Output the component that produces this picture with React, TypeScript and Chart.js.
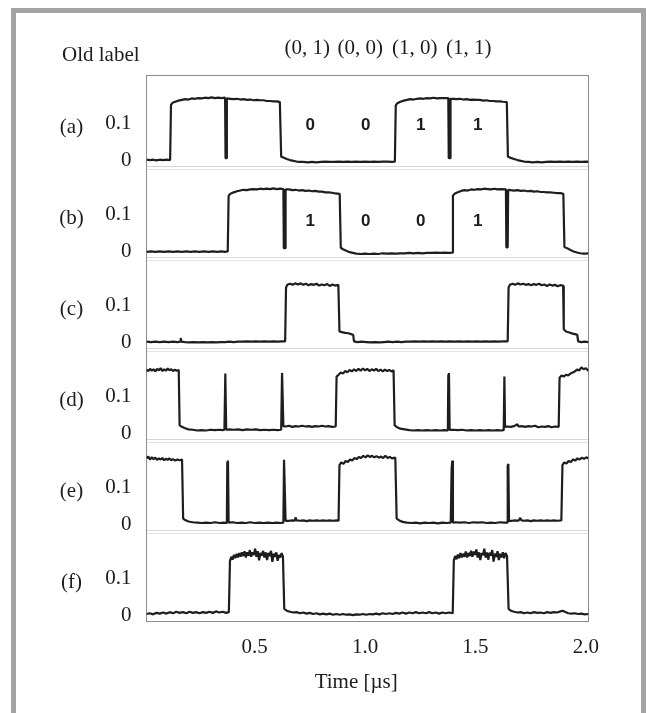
import { useEffect, useRef } from 'react';
import { Chart, registerables } from 'chart.js';

Chart.register(...registerables);

type Pt = [number, number];

// ---- labels / ticks ----
const panelLabels = ['(a)', '(b)', '(c)', '(d)', '(e)', '(f)'];
const panelIds = ['yA', 'yB', 'yC', 'yD', 'yE', 'yF'];
const oldLabelTitle = 'Old label';
const oldLabelPairs = ['(0, 1)', '(0, 0)', '(1, 0)', '(1, 1)'];
const oldLabelPairX = [0.738, 0.978, 1.225, 1.47];
const bitTextX = [0.752, 1.003, 1.252, 1.51];
const bitsA = ['0', '0', '1', '1'];
const bitsB = ['1', '0', '0', '1'];
const bitsAY = 0.097;
const bitsBY = 0.082;
const xTicks = [0.5, 1.0, 1.5, 2.0];
const yTicks = [0, 0.1];
const xTitle = 'Time [\u00b5s]';
const X_MIN = 0.01;
const X_MAX = 2.012;
const Y_MIN = -0.0165;
const Y_MAX = 0.2315;

// ---- traces (time in µs, amplitude) ----
const panelA: Pt[] = [
  [0.010,0.002],[0.025,0.001],[0.040,0.002],[0.055,0.000],[0.070,0.002],[0.085,0.001],[0.100,0.002],[0.117,0.001],
  [0.121,0.152],[0.128,0.157],[0.140,0.160],[0.155,0.163],[0.170,0.165],[0.185,0.167],[0.200,0.166],[0.215,0.169],[0.230,0.168],[0.245,0.170],[0.260,0.169],[0.275,0.171],[0.290,0.170],[0.305,0.172],[0.320,0.170],[0.335,0.171],[0.350,0.170],[0.366,0.171],
  [0.368,0.006],[0.372,0.006],[0.374,0.169],
  [0.390,0.168],[0.405,0.167],[0.420,0.168],[0.435,0.166],[0.450,0.167],[0.465,0.165],[0.480,0.166],[0.495,0.164],[0.510,0.165],[0.525,0.164],[0.540,0.164],[0.555,0.162],[0.570,0.162],[0.585,0.161],[0.600,0.161],[0.614,0.159],
  [0.620,0.010],[0.630,0.008],[0.645,0.004],[0.660,0.001],[0.675,-0.001],[0.690,-0.003],[0.705,-0.004],[0.720,-0.004],[0.740,-0.005],[0.760,-0.004],[0.780,-0.005],[0.800,-0.004],[0.820,-0.003],[0.840,-0.004],[0.860,-0.004],[0.880,-0.003],[0.900,-0.004],[0.920,-0.003],[0.940,-0.004],[0.960,-0.003],[0.980,-0.004],[1.000,-0.003],[1.020,-0.004],[1.040,-0.003],[1.060,-0.004],[1.080,-0.003],[1.100,-0.003],[1.120,-0.004],[1.135,-0.003],
  [1.139,0.150],[1.146,0.156],[1.160,0.160],[1.175,0.163],[1.190,0.165],[1.205,0.167],[1.220,0.166],[1.235,0.168],[1.250,0.169],[1.265,0.168],[1.280,0.170],[1.295,0.169],[1.310,0.171],[1.325,0.169],[1.340,0.170],[1.355,0.170],[1.377,0.170],
  [1.379,0.006],[1.385,0.006],[1.387,0.168],
  [1.400,0.168],[1.415,0.167],[1.430,0.168],[1.445,0.166],[1.460,0.167],[1.475,0.165],[1.490,0.166],[1.505,0.165],[1.520,0.165],[1.535,0.163],[1.550,0.164],[1.565,0.162],[1.580,0.162],[1.595,0.161],[1.610,0.161],[1.625,0.160],[1.642,0.159],
  [1.647,0.010],[1.660,0.007],[1.675,0.004],[1.690,0.001],[1.705,-0.001],[1.720,-0.003],[1.740,-0.004],[1.760,-0.005],[1.780,-0.004],[1.800,-0.005],[1.820,-0.004],[1.840,-0.003],[1.860,-0.004],[1.880,-0.003],[1.900,-0.004],[1.920,-0.003],[1.940,-0.004],[1.960,-0.003],[1.980,-0.004],[2.000,-0.003],[2.012,-0.004],
];

const panelB: Pt[] = [
  [0.010,-0.001],[0.030,0.000],[0.050,-0.001],[0.070,0.000],[0.090,-0.001],[0.110,0.000],[0.130,-0.001],[0.150,0.000],[0.170,-0.001],[0.190,0.000],[0.210,-0.001],[0.230,0.000],[0.250,-0.001],[0.270,0.000],[0.290,-0.001],[0.310,0.000],[0.330,-0.001],[0.350,0.000],[0.365,-0.001],[0.378,0.000],
  [0.382,0.152],[0.390,0.157],[0.405,0.161],[0.420,0.164],[0.435,0.166],[0.450,0.168],[0.465,0.167],[0.480,0.169],[0.495,0.170],[0.510,0.169],[0.525,0.171],[0.540,0.170],[0.555,0.171],[0.570,0.170],[0.585,0.172],[0.600,0.170],[0.615,0.171],[0.630,0.170],
  [0.632,0.009],[0.638,0.009],[0.640,0.169],
  [0.655,0.169],[0.670,0.167],[0.685,0.168],[0.700,0.166],[0.715,0.167],[0.730,0.165],[0.745,0.166],[0.760,0.164],[0.775,0.165],[0.790,0.163],[0.805,0.163],[0.820,0.161],[0.835,0.161],[0.850,0.160],[0.865,0.158],[0.885,0.157],
  [0.890,0.010],[0.900,0.006],[0.915,0.002],[0.930,-0.002],[0.945,-0.004],[0.960,-0.006],[0.980,-0.007],[1.000,-0.006],[1.020,-0.007],[1.040,-0.006],[1.060,-0.007],[1.080,-0.005],[1.100,-0.006],[1.120,-0.005],[1.140,-0.006],[1.160,-0.005],[1.180,-0.005],[1.200,-0.004],[1.220,-0.005],[1.240,-0.004],[1.260,-0.005],[1.280,-0.004],[1.300,-0.004],[1.320,-0.003],[1.340,-0.004],[1.360,-0.003],[1.380,-0.004],[1.394,-0.003],
  [1.398,0.152],[1.405,0.157],[1.420,0.161],[1.435,0.165],[1.450,0.167],[1.465,0.166],[1.480,0.169],[1.495,0.168],[1.510,0.170],[1.525,0.169],[1.540,0.171],[1.555,0.170],[1.570,0.169],[1.585,0.171],[1.600,0.169],[1.615,0.170],[1.638,0.169],
  [1.640,0.011],[1.646,0.011],[1.648,0.168],
  [1.660,0.167],[1.675,0.166],[1.690,0.167],[1.705,0.165],[1.720,0.166],[1.735,0.164],[1.750,0.165],[1.765,0.163],[1.780,0.164],[1.795,0.162],[1.810,0.162],[1.825,0.161],[1.840,0.161],[1.855,0.160],[1.870,0.159],[1.885,0.159],[1.898,0.157],
  [1.903,0.012],[1.915,0.009],[1.930,0.004],[1.945,0.000],[1.960,-0.003],[1.975,-0.005],[1.990,-0.006],[2.000,-0.006],[2.012,-0.005],
];

const panelC: Pt[] = [
  [0.010,0.002],[0.030,0.001],[0.050,0.002],[0.070,0.001],[0.090,0.002],[0.110,0.001],[0.130,0.002],[0.150,0.001],[0.162,0.002],[0.165,0.012],[0.168,0.002],[0.185,0.001],[0.205,0.000],[0.225,0.001],[0.245,0.000],[0.265,0.001],[0.285,0.000],[0.305,0.001],[0.325,0.000],[0.345,0.001],[0.365,0.001],[0.385,0.002],[0.405,0.001],[0.425,0.002],[0.445,0.002],[0.465,0.003],[0.485,0.002],[0.505,0.003],[0.525,0.002],[0.545,0.003],[0.565,0.002],[0.585,0.003],[0.605,0.002],[0.625,0.003],[0.638,0.003],
  [0.642,0.150],[0.648,0.157],[0.660,0.160],[0.672,0.157],[0.684,0.161],[0.696,0.158],[0.708,0.161],[0.720,0.157],[0.732,0.160],[0.744,0.156],[0.756,0.159],[0.768,0.157],[0.780,0.160],[0.792,0.155],[0.804,0.158],[0.816,0.156],[0.828,0.159],[0.840,0.154],[0.852,0.158],[0.864,0.155],[0.879,0.157],
  [0.884,0.030],[0.895,0.028],[0.910,0.026],[0.925,0.025],[0.940,0.022],[0.946,0.021],[0.950,0.003],[0.965,0.001],[0.985,0.002],[1.005,0.001],[1.025,0.000],[1.045,0.001],[1.065,0.000],[1.085,0.001],[1.105,0.002],[1.125,0.001],[1.145,0.002],[1.165,0.001],[1.185,0.002],[1.205,0.002],[1.225,0.003],[1.245,0.002],[1.265,0.003],[1.285,0.002],[1.305,0.003],[1.325,0.002],[1.345,0.003],[1.365,0.002],[1.385,0.003],[1.405,0.002],[1.425,0.003],[1.445,0.002],[1.465,0.003],[1.485,0.002],[1.505,0.003],[1.525,0.002],[1.545,0.003],[1.565,0.002],[1.585,0.003],[1.605,0.002],[1.625,0.003],[1.646,0.003],
  [1.650,0.150],[1.656,0.157],[1.668,0.160],[1.680,0.157],[1.692,0.161],[1.704,0.158],[1.716,0.160],[1.728,0.157],[1.740,0.159],[1.752,0.156],[1.764,0.159],[1.776,0.157],[1.788,0.160],[1.800,0.156],[1.812,0.158],[1.824,0.154],[1.836,0.158],[1.848,0.155],[1.860,0.157],[1.872,0.153],[1.884,0.156],[1.897,0.155],
  [1.900,0.036],[1.910,0.030],[1.925,0.027],[1.940,0.024],[1.955,0.022],[1.961,0.021],[1.965,0.003],[1.980,0.001],[1.995,0.002],[2.012,0.001],
];

const panelD: Pt[] = [
  [0.010,0.174],[0.018,0.170],[0.026,0.176],[0.034,0.171],[0.042,0.175],[0.050,0.169],[0.058,0.176],[0.066,0.172],[0.074,0.178],[0.082,0.170],[0.090,0.175],[0.098,0.171],[0.106,0.177],[0.114,0.172],[0.122,0.175],[0.130,0.170],[0.138,0.174],[0.146,0.171],[0.156,0.173],
  [0.160,0.022],[0.170,0.018],[0.185,0.014],[0.200,0.011],[0.220,0.010],[0.240,0.008],[0.260,0.009],[0.280,0.008],[0.300,0.010],[0.320,0.009],[0.340,0.010],[0.355,0.009],[0.363,0.010],
  [0.367,0.163],[0.371,0.010],
  [0.385,0.011],[0.405,0.010],[0.425,0.011],[0.445,0.009],[0.465,0.011],[0.485,0.010],[0.505,0.011],[0.525,0.009],[0.545,0.010],[0.565,0.009],[0.585,0.010],[0.605,0.009],[0.620,0.010],
  [0.624,0.165],[0.630,0.020],
  [0.640,0.019],[0.655,0.021],[0.670,0.018],[0.685,0.020],[0.700,0.019],[0.715,0.021],[0.730,0.019],[0.745,0.020],[0.760,0.018],[0.775,0.020],[0.790,0.019],[0.805,0.021],[0.820,0.019],[0.835,0.020],[0.850,0.018],[0.867,0.019],
  [0.871,0.155],[0.880,0.160],[0.890,0.166],[0.900,0.163],[0.910,0.170],[0.920,0.167],[0.930,0.173],[0.940,0.169],[0.950,0.175],[0.960,0.170],[0.970,0.176],[0.980,0.171],[0.990,0.177],[1.000,0.172],[1.010,0.176],[1.020,0.170],[1.030,0.175],[1.040,0.171],[1.050,0.176],[1.060,0.170],[1.070,0.174],[1.080,0.169],[1.090,0.174],[1.100,0.170],[1.110,0.173],[1.120,0.169],[1.129,0.172],
  [1.134,0.022],[1.145,0.017],[1.160,0.013],[1.180,0.011],[1.200,0.009],[1.220,0.008],[1.240,0.009],[1.260,0.008],[1.280,0.009],[1.300,0.008],[1.320,0.009],[1.340,0.008],[1.360,0.009],[1.375,0.008],
  [1.377,0.160],[1.380,0.165],[1.383,0.010],
  [1.400,0.010],[1.420,0.009],[1.440,0.010],[1.460,0.008],[1.480,0.009],[1.500,0.008],[1.520,0.009],[1.540,0.008],[1.560,0.009],[1.580,0.008],[1.600,0.009],[1.615,0.008],[1.628,0.009],
  [1.631,0.155],[1.634,0.018],
  [1.645,0.019],[1.660,0.018],[1.675,0.020],[1.690,0.025],[1.695,0.019],[1.710,0.020],[1.725,0.018],[1.740,0.020],[1.755,0.019],[1.770,0.021],[1.785,0.017],[1.800,0.019],[1.815,0.018],[1.830,0.020],[1.845,0.017],[1.860,0.019],[1.877,0.018],
  [1.881,0.152],[1.890,0.158],[1.900,0.155],[1.910,0.160],[1.920,0.158],[1.930,0.163],[1.940,0.166],[1.950,0.169],[1.960,0.174],[1.970,0.172],[1.980,0.180],[1.990,0.175],[2.000,0.178],[2.012,0.170],
];

const panelE: Pt[] = [
  [0.010,0.180],[0.018,0.185],[0.026,0.177],[0.034,0.183],[0.042,0.178],[0.050,0.182],[0.058,0.176],[0.066,0.180],[0.074,0.177],[0.082,0.181],[0.090,0.175],[0.098,0.179],[0.106,0.176],[0.114,0.180],[0.122,0.175],[0.130,0.178],[0.140,0.174],[0.150,0.177],[0.160,0.175],[0.171,0.177],
  [0.176,0.016],[0.185,0.012],[0.200,0.008],[0.220,0.006],[0.240,0.005],[0.260,0.004],[0.280,0.005],[0.300,0.004],[0.320,0.006],[0.340,0.004],[0.360,0.005],[0.374,0.004],
  [0.376,0.170],[0.379,0.174],[0.382,0.005],
  [0.400,0.006],[0.420,0.004],[0.440,0.005],[0.460,0.004],[0.480,0.006],[0.500,0.004],[0.520,0.005],[0.540,0.004],[0.560,0.005],[0.580,0.004],[0.600,0.005],[0.618,0.004],[0.630,0.005],
  [0.633,0.176],[0.640,0.010],
  [0.655,0.010],[0.670,0.011],[0.682,0.010],[0.685,0.019],[0.690,0.011],[0.705,0.010],[0.720,0.011],[0.735,0.009],[0.750,0.011],[0.765,0.010],[0.780,0.011],[0.795,0.010],[0.810,0.011],[0.825,0.010],[0.840,0.011],[0.855,0.010],[0.870,0.011],[0.880,0.010],
  [0.884,0.162],[0.892,0.169],[0.902,0.165],[0.912,0.173],[0.922,0.170],[0.932,0.177],[0.942,0.174],[0.952,0.181],[0.962,0.178],[0.972,0.184],[0.982,0.181],[0.992,0.187],[1.002,0.183],[1.012,0.188],[1.022,0.184],[1.032,0.187],[1.042,0.183],[1.052,0.186],[1.062,0.182],[1.072,0.185],[1.082,0.181],[1.092,0.187],[1.102,0.181],[1.112,0.184],[1.122,0.180],[1.137,0.182],
  [1.143,0.016],[1.155,0.011],[1.170,0.007],[1.190,0.005],[1.210,0.004],[1.230,0.005],[1.250,0.003],[1.270,0.005],[1.290,0.004],[1.310,0.005],[1.330,0.003],[1.350,0.005],[1.370,0.004],[1.388,0.005],
  [1.392,0.150],[1.395,0.174],[1.398,0.005],
  [1.410,0.006],[1.430,0.005],[1.450,0.006],[1.470,0.004],[1.490,0.006],[1.510,0.005],[1.530,0.006],[1.550,0.004],[1.570,0.005],[1.590,0.004],[1.610,0.006],[1.630,0.005],[1.644,0.005],
  [1.646,0.160],[1.649,0.165],[1.652,0.010],
  [1.665,0.010],[1.680,0.011],[1.695,0.010],[1.703,0.018],[1.708,0.011],[1.720,0.010],[1.735,0.011],[1.750,0.009],[1.765,0.011],[1.780,0.010],[1.795,0.011],[1.810,0.010],[1.825,0.011],[1.840,0.010],[1.855,0.011],[1.870,0.010],[1.889,0.011],
  [1.894,0.162],[1.902,0.169],[1.912,0.166],[1.922,0.173],[1.932,0.170],[1.942,0.177],[1.952,0.174],[1.962,0.180],[1.972,0.177],[1.982,0.182],[1.992,0.179],[2.002,0.183],[2.012,0.180],
];

const panelF: Pt[] = [
  [0.010,0.004],[0.025,0.006],[0.040,0.003],[0.055,0.007],[0.070,0.005],[0.085,0.008],[0.100,0.005],[0.115,0.009],[0.130,0.006],[0.145,0.010],[0.160,0.007],[0.175,0.009],[0.190,0.006],[0.205,0.010],[0.220,0.007],[0.235,0.009],[0.250,0.006],[0.265,0.009],[0.280,0.007],[0.295,0.010],[0.310,0.007],[0.325,0.011],[0.340,0.008],[0.355,0.010],[0.370,0.007],[0.383,0.009],
  [0.388,0.148],[0.394,0.160],[0.400,0.152],[0.406,0.165],[0.412,0.156],[0.418,0.168],[0.424,0.158],[0.430,0.170],[0.436,0.160],[0.442,0.172],[0.448,0.162],[0.454,0.175],[0.460,0.158],[0.466,0.172],[0.472,0.163],[0.478,0.178],[0.484,0.160],[0.490,0.172],[0.496,0.165],[0.502,0.182],[0.508,0.160],[0.514,0.175],[0.520,0.150],[0.526,0.170],[0.532,0.163],[0.538,0.176],[0.544,0.158],[0.550,0.172],[0.556,0.151],[0.562,0.170],[0.568,0.162],[0.574,0.176],[0.580,0.146],[0.586,0.168],[0.592,0.160],[0.598,0.172],[0.604,0.149],[0.610,0.165],[0.616,0.158],[0.622,0.170],[0.628,0.160],
  [0.634,0.018],[0.645,0.013],[0.660,0.010],[0.675,0.008],[0.690,0.009],[0.705,0.006],[0.720,0.008],[0.735,0.005],[0.750,0.007],[0.765,0.004],[0.780,0.006],[0.795,0.003],[0.810,0.005],[0.825,0.003],[0.840,0.005],[0.855,0.002],[0.870,0.004],[0.885,0.002],[0.900,0.004],[0.915,0.002],[0.930,0.003],[0.945,0.001],[0.960,0.003],[0.975,0.002],[0.990,0.004],[1.005,0.002],[1.020,0.004],[1.035,0.003],[1.050,0.005],[1.065,0.003],[1.080,0.006],[1.095,0.004],[1.110,0.006],[1.125,0.004],[1.140,0.007],[1.155,0.005],[1.170,0.008],[1.185,0.005],[1.200,0.008],[1.215,0.006],[1.230,0.009],[1.245,0.006],[1.260,0.008],[1.275,0.006],[1.290,0.009],[1.305,0.006],[1.320,0.008],[1.335,0.005],[1.350,0.008],[1.365,0.006],[1.380,0.008],[1.397,0.006],
  [1.402,0.150],[1.408,0.162],[1.414,0.153],[1.420,0.166],[1.426,0.156],[1.432,0.170],[1.438,0.158],[1.444,0.168],[1.450,0.160],[1.456,0.174],[1.462,0.158],[1.468,0.170],[1.474,0.162],[1.480,0.176],[1.486,0.160],[1.492,0.174],[1.498,0.165],[1.504,0.180],[1.510,0.158],[1.516,0.172],[1.522,0.151],[1.528,0.170],[1.534,0.164],[1.540,0.182],[1.546,0.158],[1.552,0.172],[1.558,0.152],[1.564,0.171],[1.570,0.163],[1.576,0.178],[1.582,0.147],[1.588,0.168],[1.594,0.160],[1.600,0.175],[1.606,0.151],[1.612,0.168],[1.618,0.158],[1.624,0.172],[1.630,0.156],[1.636,0.170],[1.643,0.162],
  [1.650,0.018],[1.660,0.013],[1.675,0.010],[1.690,0.008],[1.705,0.009],[1.720,0.006],[1.735,0.008],[1.750,0.006],[1.765,0.009],[1.780,0.007],[1.795,0.008],[1.810,0.006],[1.825,0.009],[1.840,0.007],[1.855,0.009],[1.870,0.008],[1.885,0.011],[1.895,0.013],[1.905,0.010],[1.920,0.006],[1.935,0.005],[1.950,0.006],[1.965,0.004],[1.980,0.005],[1.995,0.003],[2.012,0.004],
];

const panelSeries: Pt[][] = [panelA, panelB, panelC, panelD, panelE, panelF];

const SERIF = '"Liberation Serif", "Times New Roman", serif';
const SANS = '"Liberation Sans", Arial, sans-serif';
const INK = '#1c1c1c';
const FONT_SIZE = 21;

const decorPlugin = {
  id: 'decor',
  beforeDatasetsDraw(chart: any) {
    const { ctx, chartArea: a, scales } = chart;
    ctx.save();
    ctx.lineWidth = 1;
    panelIds.slice(1).forEach((id) => {
      const yb = scales[id].top;
      ctx.strokeStyle = '#d6d6d6';
      ctx.beginPath();
      ctx.moveTo(a.left, yb);
      ctx.lineTo(a.right, yb);
      ctx.stroke();
      ctx.strokeStyle = '#e2e2e2';
      ctx.beginPath();
      ctx.moveTo(a.left, yb + 3);
      ctx.lineTo(a.right, yb + 3);
      ctx.stroke();
    });
    ctx.strokeStyle = '#8c8c8c';
    ctx.strokeRect(a.left, a.top, a.right - a.left, a.bottom - a.top);
    ctx.restore();
  },
  afterDraw(chart: any) {
    const { ctx, chartArea: a, scales } = chart;
    const xs = scales.x;
    ctx.save();
    ctx.fillStyle = INK;
    ctx.textBaseline = 'middle';
    ctx.font = `${FONT_SIZE}px ${SERIF}`;
    // panel letters
    ctx.textAlign = 'center';
    panelIds.forEach((id, i) => {
      ctx.fillText(panelLabels[i], a.left - 75, scales[id].getPixelForValue(0.09));
    });
    // header
    ctx.textAlign = 'left';
    ctx.fillText(oldLabelTitle, a.left - 84.5, a.top - 20);
    ctx.textAlign = 'center';
    oldLabelPairs.forEach((t, i) => {
      ctx.fillText(t, xs.getPixelForValue(oldLabelPairX[i]), a.top - 27);
    });
    // x title
    ctx.fillText(xTitle, xs.getPixelForValue(0.96), a.bottom + 61);
    // bit digits
    ctx.font = `bold 17px ${SANS}`;
    bitsA.forEach((t, i) => {
      ctx.fillText(t, xs.getPixelForValue(bitTextX[i]), scales.yA.getPixelForValue(bitsAY));
    });
    bitsB.forEach((t, i) => {
      ctx.fillText(t, xs.getPixelForValue(bitTextX[i]), scales.yB.getPixelForValue(bitsBY));
    });
    ctx.restore();
  },
};

export default function App() {
  const ref = useRef<HTMLCanvasElement | null>(null);

  useEffect(() => {
    if (!ref.current) return;
    const scales: any = {
      x: {
        type: 'linear',
        position: 'bottom',
        min: X_MIN,
        max: X_MAX,
        grid: { display: false, drawTicks: false },
        border: { display: false },
        afterBuildTicks: (s: any) => {
          s.ticks = xTicks.map((v) => ({ value: v }));
        },
        afterFit: (s: any) => {
          s.height = 91.5;
        },
        ticks: {
          padding: 13,
          color: INK,
          font: { family: SERIF, size: FONT_SIZE },
          maxRotation: 0,
          autoSkip: false,
          callback: (v: any) => Number(v).toFixed(1),
        },
      },
    };
    [...panelIds].reverse().forEach((id, k) => {
      const weight = k + 1; // yA highest weight -> top
      scales[id] = {
        type: 'linear',
        position: 'left',
        stack: 'panels',
        stackWeight: 1,
        weight,
        offset: false,
        min: Y_MIN,
        max: Y_MAX,
        grid: { display: false, drawTicks: false },
        border: { display: false },
        afterBuildTicks: (s: any) => {
          s.ticks = yTicks.map((v) => ({ value: v }));
        },
        afterFit: (s: any) => {
          s.width = 146.5;
        },
        ticks: {
          padding: 15,
          color: INK,
          font: { family: SERIF, size: FONT_SIZE },
          autoSkip: false,
          callback: (v: any) => String(v),
        },
      };
    });

    const chart = new Chart(ref.current, {
      type: 'line',
      data: {
        datasets: panelSeries.map((pts, i) => ({
          label: panelLabels[i],
          yAxisID: panelIds[i],
          data: pts.map(([x, y]) => ({ x, y })),
          borderColor: '#1e1e1e',
          borderWidth: 2.2,
          borderJoinStyle: 'bevel' as const,
          pointRadius: 0,
          tension: 0,
          fill: false,
        })),
      },
      options: {
        responsive: false,
        maintainAspectRatio: false,
        devicePixelRatio: 1,
        animation: false,
        events: [],
        layout: { padding: { top: 75.5, right: 57.5, left: 0, bottom: 0 } },
        plugins: { legend: { display: false }, tooltip: { enabled: false } },
        scales,
      },
      plugins: [decorPlugin],
    });
    return () => chart.destroy();
  }, []);

  return (
    <div style={{ position: 'absolute', left: 0, top: 0, width: 646, height: 713, overflow: 'hidden', background: '#fff' }}>
      <div
        style={{
          position: 'absolute',
          left: 11,
          top: 8,
          width: 635,
          height: 720,
          border: '5px solid #a3a3a3',
          borderBottom: 'none',
          boxSizing: 'border-box',
        }}
      />
      <canvas ref={ref} width={646} height={713} style={{ position: 'absolute', left: 0, top: 0, display: 'block' }} />
    </div>
  );
}
